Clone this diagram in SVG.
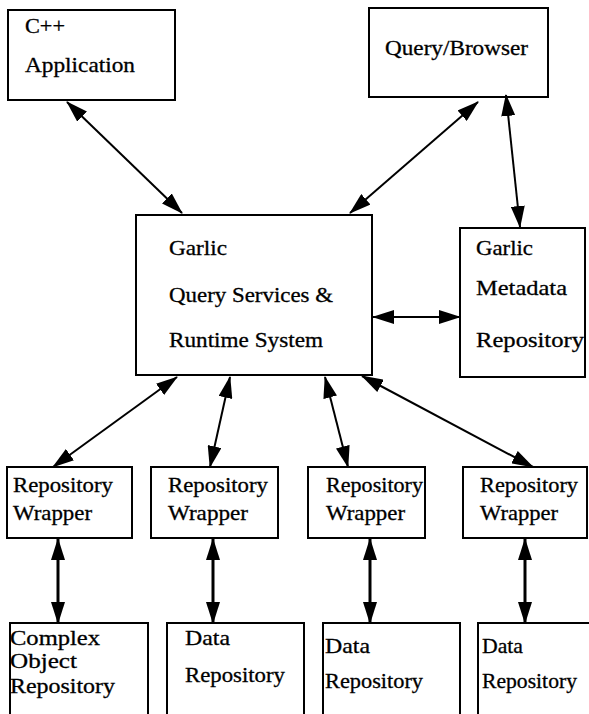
<svg xmlns="http://www.w3.org/2000/svg" width="589" height="714" viewBox="0 0 589 714">
<style>
rect{fill:#fff;stroke:#000;stroke-width:2}
text{font-family:"Liberation Serif","Times New Roman",serif;font-size:21px;fill:#000;stroke:#000;stroke-width:0.3}
.c{stroke:#000;stroke-width:2;fill:none;marker-start:url(#ah);marker-end:url(#ah)}
.t{stroke-width:3}
</style>
<defs>
<marker id="ah" viewBox="0 0 22 14" refX="21" refY="7" markerWidth="22" markerHeight="14" markerUnits="userSpaceOnUse" orient="auto-start-reverse">
<path d="M0,0 L22,7 L0,14 z" fill="#000"/>
</marker>
</defs>
<rect x="0" y="0" width="589" height="714" style="stroke:none"/>
<g id="cpp"><rect x="8" y="10" width="167" height="90"/>
<text x="25" y="33" textLength="40" lengthAdjust="spacingAndGlyphs">C++</text>
<text x="25" y="72" textLength="110" lengthAdjust="spacingAndGlyphs">Application</text></g>
<g id="browser"><rect x="369" y="8" width="179" height="89"/>
<text x="385" y="55" textLength="143" lengthAdjust="spacingAndGlyphs">Query/Browser</text></g>
<g id="garlic"><rect x="136" y="215" width="236" height="160"/>
<text x="169" y="255" textLength="58" lengthAdjust="spacingAndGlyphs">Garlic</text>
<text x="169" y="302" textLength="164" lengthAdjust="spacingAndGlyphs">Query Services &amp;</text>
<text x="169" y="347" textLength="154" lengthAdjust="spacingAndGlyphs">Runtime System</text></g>
<g id="meta"><rect x="460" y="228" width="125" height="149"/>
<text x="476" y="255" textLength="57" lengthAdjust="spacingAndGlyphs">Garlic</text>
<text x="476" y="295" textLength="91" lengthAdjust="spacingAndGlyphs">Metadata</text>
<text x="476" y="347" textLength="108" lengthAdjust="spacingAndGlyphs">Repository</text></g>
<g id="w1"><rect x="7" y="467" width="125" height="71"/>
<text x="13" y="492" textLength="100" lengthAdjust="spacingAndGlyphs">Repository</text>
<text x="13" y="520" textLength="79" lengthAdjust="spacingAndGlyphs">Wrapper</text></g>
<g id="w2"><rect x="151" y="467" width="127" height="71"/>
<text x="168" y="492" textLength="100" lengthAdjust="spacingAndGlyphs">Repository</text>
<text x="168" y="520" textLength="80" lengthAdjust="spacingAndGlyphs">Wrapper</text></g>
<g id="w3"><rect x="308" y="467" width="117" height="71"/>
<text x="326" y="492" textLength="97" lengthAdjust="spacingAndGlyphs">Repository</text>
<text x="326" y="520" textLength="79" lengthAdjust="spacingAndGlyphs">Wrapper</text></g>
<g id="w4"><rect x="463" y="467" width="124" height="71"/>
<text x="480" y="492" textLength="98" lengthAdjust="spacingAndGlyphs">Repository</text>
<text x="480" y="520" textLength="78" lengthAdjust="spacingAndGlyphs">Wrapper</text></g>
<g id="r1"><rect x="10" y="623" width="138" height="100"/>
<text x="10" y="645" textLength="90" lengthAdjust="spacingAndGlyphs">Complex</text>
<text x="10" y="668" textLength="67" lengthAdjust="spacingAndGlyphs">Object</text>
<text x="10" y="693" textLength="105" lengthAdjust="spacingAndGlyphs">Repository</text></g>
<g id="r2"><rect x="167" y="623" width="137" height="100"/>
<text x="185" y="645" textLength="45" lengthAdjust="spacingAndGlyphs">Data</text>
<text x="185" y="682" textLength="100" lengthAdjust="spacingAndGlyphs">Repository</text></g>
<g id="r3"><rect x="323" y="623" width="137" height="100"/>
<text x="325" y="653" textLength="45" lengthAdjust="spacingAndGlyphs">Data</text>
<text x="325" y="688" textLength="98" lengthAdjust="spacingAndGlyphs">Repository</text></g>
<g id="r4"><rect x="478" y="623" width="120" height="100"/>
<text x="482" y="653" textLength="41" lengthAdjust="spacingAndGlyphs">Data</text>
<text x="482" y="688" textLength="95" lengthAdjust="spacingAndGlyphs">Repository</text></g>
<g id="connectors">
<line class="c" x1="67" y1="102" x2="182" y2="213"/>
<line class="c" x1="478" y1="102" x2="350" y2="213"/>
<line class="c" x1="506" y1="95" x2="520" y2="227"/>
<line class="c" x1="373" y1="317" x2="460" y2="317"/>
<line class="c" x1="177" y1="377" x2="53" y2="467"/>
<line class="c" x1="230" y1="377" x2="210" y2="467"/>
<line class="c" x1="325" y1="377" x2="348" y2="467"/>
<line class="c" x1="362" y1="376" x2="533" y2="467"/>
<line class="c t" x1="58" y1="539" x2="58" y2="623"/>
<line class="c t" x1="213" y1="539" x2="213" y2="623"/>
<line class="c t" x1="370" y1="539" x2="370" y2="623"/>
<line class="c t" x1="525" y1="539" x2="525" y2="623"/>
</g>
</svg>
